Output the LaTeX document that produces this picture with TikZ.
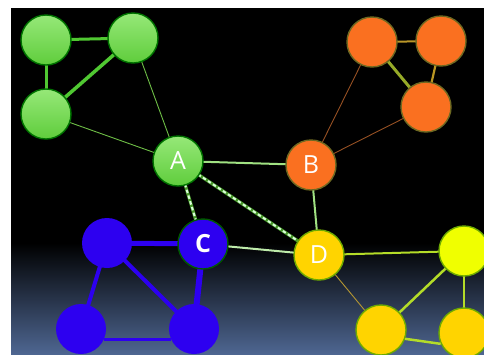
\documentclass[tikz,border=0pt]{standalone}
\usepackage{fontspec}
\setmainfont{Open Sans}
\begin{document}
\begin{tikzpicture}[x=1pt,y=-1pt,
  vertex/.style={circle,minimum size=50pt,inner sep=0pt,line width=1.4pt,
    text=white,font=\fontsize{25}{25}\selectfont},
  gnode/.style={vertex,draw=green!45!black,top color=gnA,bottom color=gnB},
  onode/.style={vertex,draw=olive!70!black,fill=orn},
  bnode/.style={vertex,fill=blu,draw=none},
  ynode/.style={vertex,draw=ygr,fill=gold},
  thin edge/.style={line width=0.9pt},
  dashlink/.style={line width=3.2pt,draw=dgreen},
  dashtop/.style={line width=2pt,draw=white!85!green,dash pattern=on 3.5pt off 2.5pt}
]
\definecolor{gnA}{RGB}{150,232,120}
\definecolor{gnB}{RGB}{95,205,60}
\definecolor{orn}{RGB}{250,112,32}
\definecolor{blu}{RGB}{45,0,240}
\definecolor{gold}{RGB}{255,212,0}
\definecolor{lemon}{RGB}{240,255,0}
\definecolor{ygr}{RGB}{110,170,0}
\definecolor{dgreen}{RGB}{70,150,40}
\definecolor{bgblue}{RGB}{78,102,145}

% canvas
\useasboundingbox (0,0) rectangle (484,354);
\fill[white] (0,0) rectangle (484,354);
\fill[black] (11,8) rectangle (484,244);
\shade[top color=black,bottom color=bgblue] (11,243) rectangle (484,354);

% node positions
\coordinate (pg1) at (46,40);
\coordinate (pg2) at (133,38);
\coordinate (pg3) at (46,114);
\coordinate (pa) at (178,161);
\coordinate (po1) at (372,42);
\coordinate (po2) at (441,41);
\coordinate (po3) at (426,107);
\coordinate (pb) at (311,165);
\coordinate (pc) at (203,244);
\coordinate (pb1) at (107,243);
\coordinate (pb2) at (81,329);
\coordinate (pb3) at (194,329);
\coordinate (pd) at (319,255);
\coordinate (py1) at (464,251);
\coordinate (py2) at (381,330);
\coordinate (py3) at (464,333);

% edges
\draw[line width=3pt,draw={rgb,255:red,80;green,200;blue,50}] (pg1) -- (pg2);
\draw[line width=3pt,draw={rgb,255:red,80;green,200;blue,50}] (pg1) -- (pg3);
\draw[line width=3.5pt,draw={rgb,255:red,80;green,200;blue,50}] (pg2) -- (pg3);
\draw[thin edge,draw={rgb,255:red,110;green,190;blue,70}] (pg2) -- (pa);
\draw[thin edge,draw={rgb,255:red,110;green,190;blue,70}] (pg3) -- (pa);
\draw[line width=2pt,draw={rgb,255:red,160;green,225;blue,130}] (pa) -- (pb);
\draw[dashlink] (pa) -- (pc);
\draw[dashtop] (pa) -- (pc);
\draw[dashlink] (pa) -- (pd);
\draw[dashtop] (pa) -- (pd);
\draw[thin edge,draw={rgb,255:red,150;green,80;blue,35}] (pb) -- (po1);
\draw[thin edge,draw={rgb,255:red,150;green,80;blue,35}] (pb) -- (po3);
\draw[line width=2pt,draw={rgb,255:red,185;green,150;blue,40}] (po1) -- (po2);
\draw[line width=3pt,draw={rgb,255:red,150;green,170;blue,40}] (po1) -- (po3);
\draw[line width=2.2pt,draw={rgb,255:red,185;green,150;blue,35}] (po2) -- (po3);
\draw[line width=2pt,draw={rgb,255:red,160;green,225;blue,130}] (pb) -- (pd);
\draw[line width=2pt,draw={rgb,255:red,190;green,235;blue,170}] (pc) -- (pd);
\draw[line width=5pt,draw=blu] (pb1) -- (pc);
\draw[line width=4pt,draw=blu] (pb1) -- (pb2);
\draw[line width=4pt,draw=blu] (pb1) -- (pb3);
\draw[line width=6pt,draw=blu] (pc) -- (pb3);
\draw[line width=2pt,draw={rgb,255:red,180;green,220;blue,40}] (pd) -- (py1);
\draw[thin edge,draw={rgb,255:red,180;green,150;blue,50}] (pd) -- (py2);
\draw[line width=2.5pt,draw={rgb,255:red,180;green,220;blue,40}] (py1) -- (py2);
\draw[line width=2.5pt,draw={rgb,255:red,180;green,220;blue,40}] (py1) -- (py3);

% nodes
\node[gnode] (g1) at (pg1) {};
\node[gnode] (g2) at (pg2) {};
\node[gnode] (g3) at (pg3) {};
\node[gnode] (a) at (pa) {A};
\node[onode] (o1) at (po1) {};
\node[onode] (o2) at (po2) {};
\node[onode] (o3) at (po3) {};
\node[onode] (b) at (pb) {B};
\node[bnode] (b1) at (pb1) {};
\node[bnode] (b2) at (pb2) {};
\node[bnode] (b3) at (pb3) {};
\node[bnode,draw=green!35!black] (c) at (pc) {\textbf{C}};
\node[ynode] (d) at (pd) {D};
\node[ynode,fill=lemon] (y1) at (py1) {};
\node[ynode] (y2) at (py2) {};
\node[ynode] (y3) at (py3) {};

% lower links run below the centres, between the circles
\draw[line width=3pt,draw=blu] (b2.-25) -- (b3.205);
\draw[line width=2.5pt,draw={rgb,255:red,180;green,220;blue,40}] (y2.-20) -- (y3.205);
\end{tikzpicture}
\end{document}
